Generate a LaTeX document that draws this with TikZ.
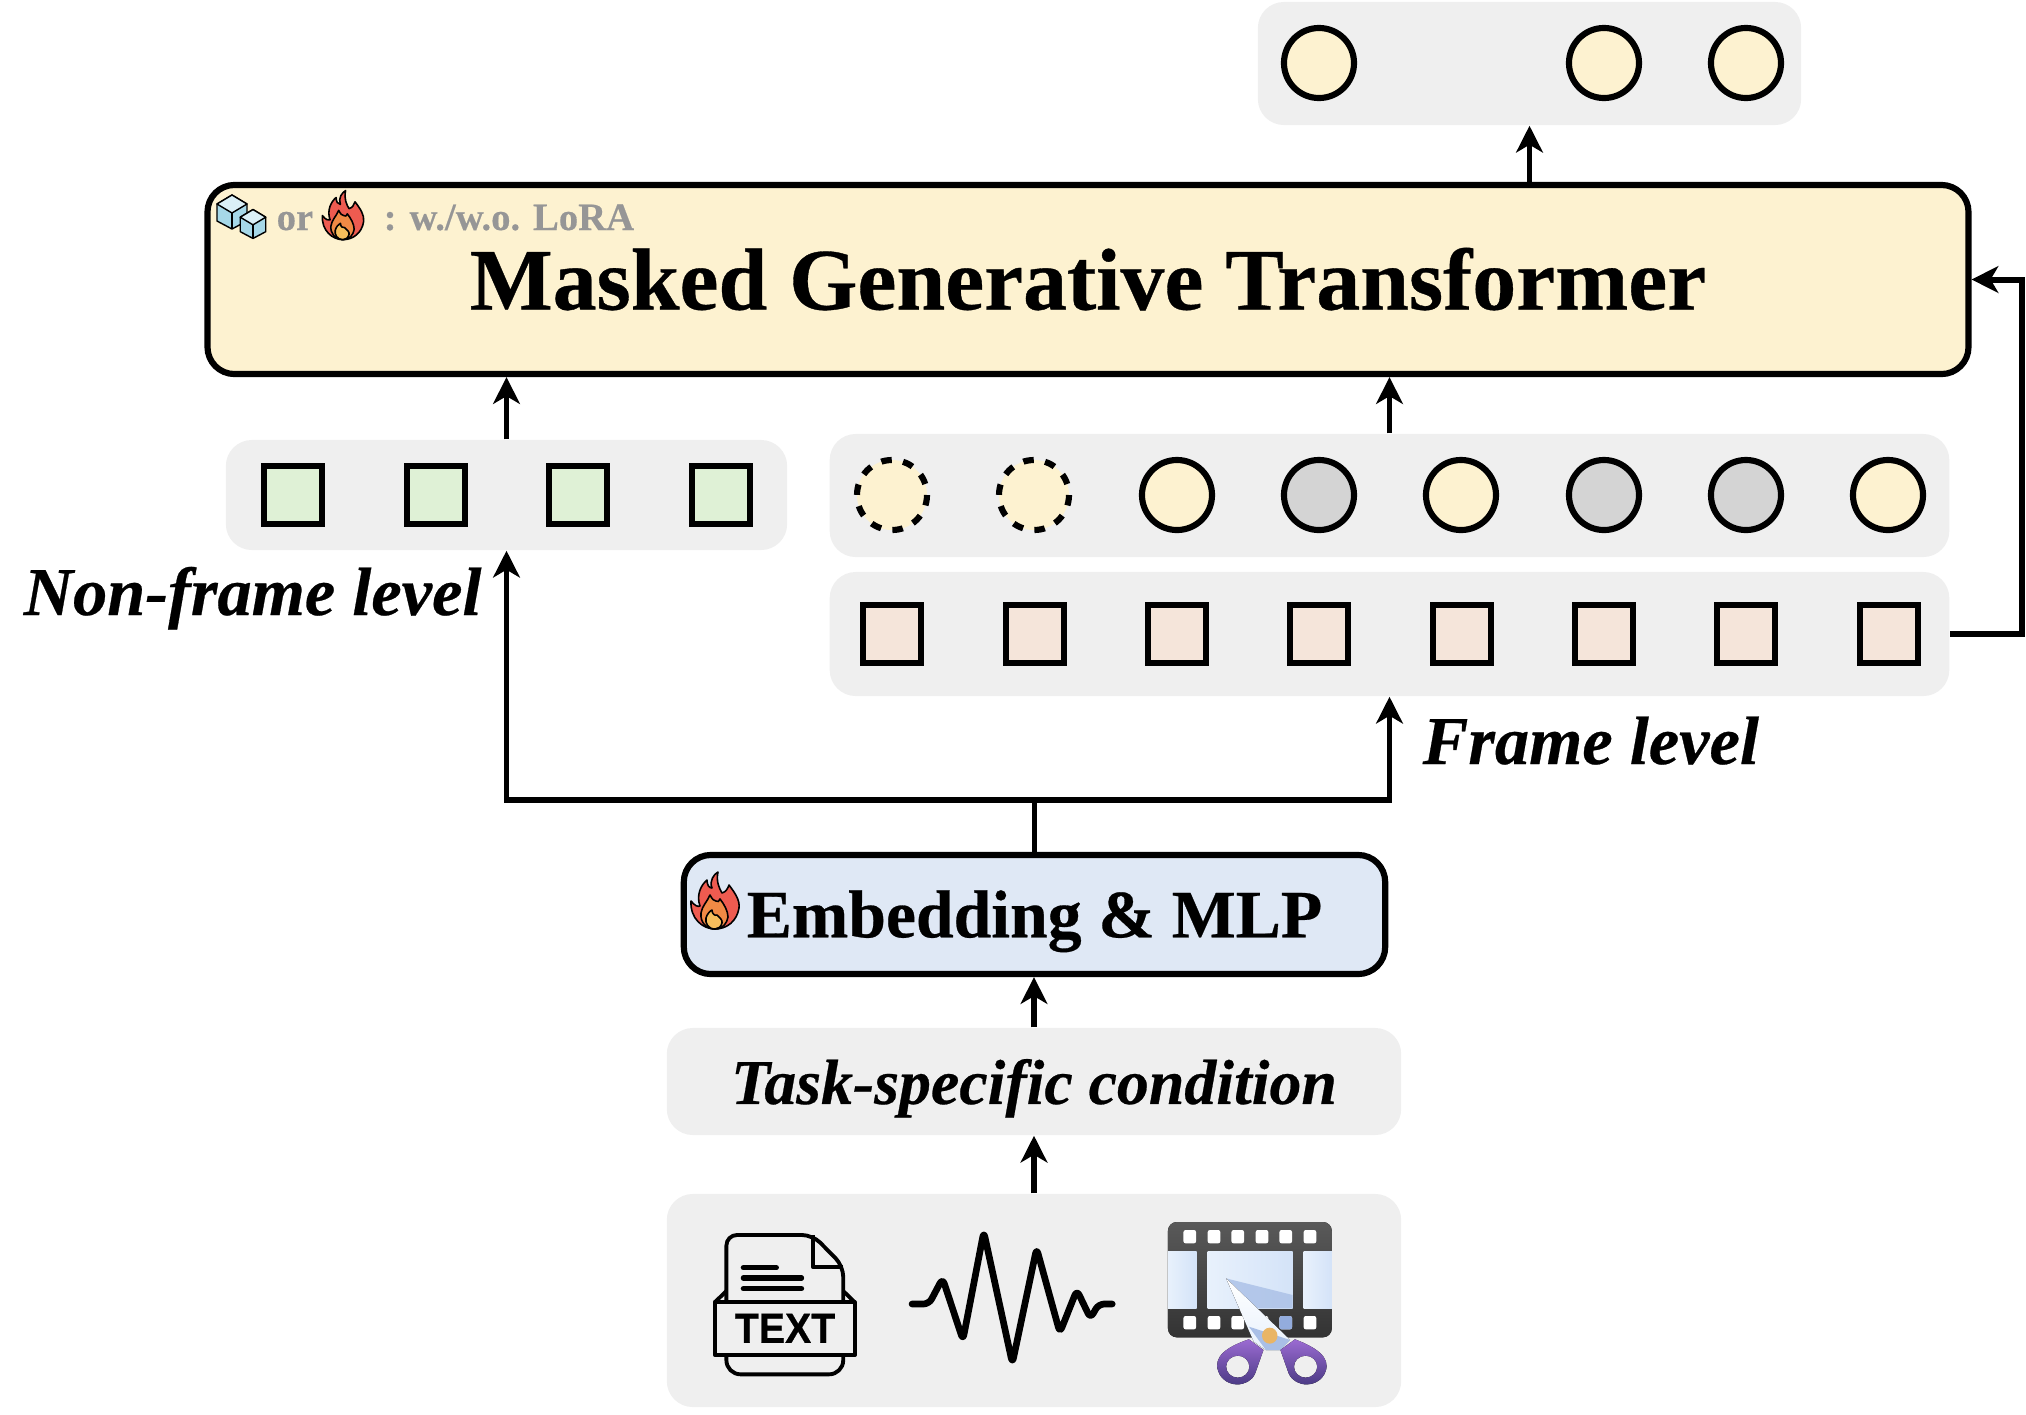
\documentclass[tikz,border=0pt]{standalone}
\usepackage{fontspec}
\setmainfont[BoldFeatures={FakeBold=0.4},BoldItalicFeatures={FakeBold=0.4}]{Liberation Serif}
\newfontfamily\iconfont[FakeStretch=0.93,BoldFeatures={FakeBold=0.6}]{Liberation Sans}
\usetikzlibrary{shapes,arrows,arrows.meta,positioning,fit,calc,backgrounds}

\definecolor{cream}{HTML}{FDF2D0}
\definecolor{panelgray}{HTML}{EFEFEF}
\definecolor{embedblue}{HTML}{DFE8F5}
\definecolor{leafgreen}{HTML}{DFF1D6}
\definecolor{peach}{HTML}{F5E5DA}
\definecolor{maskgray}{HTML}{D4D4D4}
\definecolor{loragray}{HTML}{969696}
\definecolor{flamered}{HTML}{EE5B50}
\definecolor{flameorange}{HTML}{F08A45}
\definecolor{flameyellow}{HTML}{F6BE5C}
\definecolor{icedark}{HTML}{A6D8E8}
\definecolor{icelight}{HTML}{DAF0F7}
\definecolor{filmlight}{HTML}{E8F1FC}
\definecolor{filmblue}{HTML}{D4E3F8}
\definecolor{filmshade}{HTML}{A9BFE6}
\definecolor{sprocketblue}{HTML}{93ACDD}
\definecolor{purpletop}{HTML}{9B6BD2}
\definecolor{purplebottom}{HTML}{45377F}
\definecolor{pivotgold}{HTML}{E9B565}

\tikzset{
    flame/.pic={
        \draw[fill=flamered, line width=0.45pt, line join=round] (0,24) .. controls (-12,24) and (-25,14) .. (-24,-4)
            .. controls (-20,1) and (-17,2) .. (-15,1) .. controls (-19,-10) and (-14,-20) .. (-8,-25)
            .. controls (-8,-20) and (-6,-17) .. (-3,-17) .. controls (-6,-24) and (-1,-31) .. (3,-33)
            .. controls (1,-24) and (4,-17) .. (7,-12) .. controls (11,-13) and (13,-17) .. (14,-20)
            .. controls (20,-12) and (25,-5) .. (24,3) .. controls (22,16) and (12,24) .. (0,24) -- cycle;
        \draw[fill=flameorange, line width=0.45pt, line join=round] (0,24) .. controls (-9,24) and (-15,17) .. (-14,8)
            .. controls (-13,1) and (-8,-3) .. (-5,-10) .. controls (-3,-6) and (-1,-4) .. (1,-4)
            .. controls (3,-2) and (4,-4) .. (5,-6) .. controls (9,-1) and (13,6) .. (13,12)
            .. controls (12,18) and (8,24) .. (0,24) -- cycle;
        \draw[fill=flameyellow, line width=0.45pt, line join=round] (0,24) .. controls (-7,24) and (-10,18) .. (-9,13)
            .. controls (-8,9) and (-5,6) .. (-3,5) .. controls (-3,9) and (0,11) .. (2,10)
            .. controls (4,12) and (8,15) .. (7,18) .. controls (6,22) and (3,24) .. (0,24) -- cycle;
    },
    cube/.pic={
        \draw[fill=icedark, line width=0.4pt, line join=round] (0,-17) -- (15,-8) -- (15,9) -- (0,17) -- (-15,9) -- (-15,-8) -- cycle;
        \draw[fill=icelight, line width=0.4pt, line join=round] (0,-17) -- (15,-8) -- (0,1) -- (-15,-8) -- cycle;
        \draw[line width=0.4pt] (0,1) -- (0,17);
    },
    panel/.style={fill=panelgray, rounded corners=0.26cm, inner sep=0pt},
    block/.style={draw, line width=1.75pt, rounded corners=0.27cm, inner sep=0pt, text depth=0pt},
    cell/.style={draw, line width=1.75pt, minimum size=0.58cm, inner sep=0pt},
    token/.style={draw, circle, line width=1.75pt, minimum size=0.7cm, inner sep=0pt, fill=cream},
    edge/.style={-{Stealth[length=7.6pt,width=7.6pt,inset=2.2pt]}, line width=1.7pt, draw=black},
    levellabel/.style={font=\fontsize{19.45}{24}\selectfont\bfseries\itshape, inner sep=0pt},
}

\begin{document}
\begin{tikzpicture}[x=0.01cm, y=-0.01cm]
\useasboundingbox (0,0) rectangle (2026,1414);

% Output tokens
\node[panel, minimum width=5.43cm, minimum height=1.23cm] (outpanel) at (1529.5,63.5) {};
\foreach \x/\n in {1319/a, 1604/b, 1746/c}
    \node[token] (out\n) at (\x,63) {};

% Transformer
\node[block, fill=cream, minimum width=17.60cm, minimum height=1.89cm,
      font=\fontsize{24.95}{30}\selectfont\bfseries] (trans) at (1088,279.5) {\raisebox{0.5pt}{Masked Generative Transformer}};
\pic[scale=0.86] at (343,219) {flame};
\pic at (232,212) {cube};
\pic[scale=0.85] at (253,224) {cube};
\node[font=\fontsize{11}{14}\selectfont\bfseries, text=loragray, anchor=base west, inner sep=0pt] (orlabel) at (276,230) {or};
\node[font=\fontsize{11}{14}\selectfont\bfseries, text=loragray, anchor=base west, inner sep=0pt] (loralabel) at (383,230) {: w./w.o. LoRA};

% Non-frame level
\node[panel, minimum width=5.61cm, minimum height=1.10cm] (nonframe) at (506.5,495) {};
\foreach \x/\n in {293/a, 436/b, 578/c, 721/d}
    \node[cell, fill=leafgreen] (green\n) at (\x,495) {};
\node[levellabel, anchor=base west] (nonframelabel) at (23,615) {Non-frame level};

% Frame level tokens
\node[panel, minimum width=11.19cm, minimum height=1.23cm] (tokens) at (1389.5,495.5) {};
\foreach \x/\n in {892/a, 1034/b}
    \node[token, draw=none] (mask\n) at (\x,495) {};
\foreach \x/\n in {892/a, 1034/b}
    \draw[line width=1.75pt, dash pattern=on 3pt off 3.26pt] (mask\n) circle (35);
\foreach \x/\n/\c in {1177/c/cream, 1319/d/maskgray, 1461/e/cream, 1604/f/maskgray, 1746/g/maskgray, 1888/h/cream}
    \node[token, fill=\c] (mask\n) at (\x,495) {};

\node[panel, minimum width=11.19cm, minimum height=1.24cm] (frames) at (1389.5,634) {};
\foreach \x/\n in {892/a, 1035/b, 1177/c, 1319/d, 1462/e, 1604/f, 1746/g, 1889/h}
    \node[cell, fill=peach] (frame\n) at (\x,634) {};
\node[levellabel, anchor=base west] (framelabel) at (1422,764) {Frame level};

% Embedding
\node[block, fill=embedblue, minimum width=7.01cm, minimum height=1.19cm,
      font=\fontsize{19.25}{23}\selectfont\bfseries] (embed) at (1034.5,914.5) {\raisebox{0.4pt}{Embedding \& MLP}};
\pic at (715,905) {flame};

% Condition
\node[panel, minimum width=7.34cm, minimum height=1.07cm, text depth=0pt,
      font=\fontsize{18.15}{23}\selectfont\bfseries\itshape] (task) at (1034,1081.5) {Task-specific condition};

% Inputs
\node[panel, minimum width=7.34cm, minimum height=2.13cm] (inputs) at (1034,1300.5) {};

% Text icon
\begin{scope}[shift={(660,1180)}, xscale=0.4847, yscale=0.3333, line width=1.1pt, line join=round]
    \draw[rounded corners=3pt] (137,367) -- (137,165) -- (315,165) -- (378,258) -- (378,367);
    \draw (315,165) -- (315,260) -- (378,260);
    \draw[line width=1.5pt, line cap=round] (172,263) -- (240,263);
    \draw[line width=1.5pt, line cap=round] (172,294) -- (292,294);
    \draw[line width=1.5pt, line cap=round] (172,326) -- (292,326);
    \draw (137,333) -- (113,367) (378,333) -- (402,367);
    \draw (113,367) rectangle (402,525);
    \draw[rounded corners=4pt] (137,525) -- (137,583) -- (378,583) -- (378,525);
    \node[font=\fontsize{12}{14}\selectfont\iconfont\bfseries, inner sep=0pt] (texticon) at (258,445) {TEXT};
\end{scope}

% Waveform
\begin{scope}[shift={(660,1180)}, xscale=0.4847, yscale=0.3333]
    \draw[line width=1.9pt, line join=round, line cap=round, rounded corners=1.6pt]
        (520,372) -- (555,372) -- (583,295) -- (625,480) -- (668,155) -- (727,550) -- (777,205)
        -- (825,458) -- (860,330) -- (888,415) -- (905,372) -- (933,372);
\end{scope}

% Film and scissors
\begin{scope}[shift={(660,1180)}, xscale=0.4847, yscale=0.3333]
    \fill[top color=black!65, bottom color=black!80, rounded corners=2.5pt] (1048,126) rectangle (1386,472);
    \fill[left color=filmlight, right color=filmblue] (1048,215) rectangle (1107,385);
    \fill[left color=filmlight, right color=filmblue] (1130,215) rectangle (1305,385);
    \fill[left color=filmlight, right color=filmblue] (1328,215) rectangle (1386,385);
    \foreach \x in {1093,1143,1192,1242,1291,1341} {
        \fill[white, rounded corners=0.6pt] (\x-13,150) rectangle (\x+13,190);
        \fill[white, rounded corners=0.6pt] (\x-13,408) rectangle (\x+13,448);
    }
    \fill[sprocketblue, rounded corners=0.6pt] (1278,408) rectangle (1304,448);
    \fill[filmshade, opacity=0.8] (1168,295) -- (1305,345) -- (1305,385) -- (1195,385) -- cycle;
    \fill[top color=white, bottom color=filmlight] (1168,295) -- (1225,485) -- (1250,510) -- (1280,510) -- (1300,480) -- cycle;
    \fill[filmshade] (1215,440) -- (1300,480) -- (1280,510) -- (1250,510) -- cycle;
    \fill[even odd rule, top color=purpletop, bottom color=purplebottom]
        (1215,478) .. controls (1170,500) and (1140,530) .. (1152,575) .. controls (1165,625) and (1215,625) .. (1228,580)
        -- (1245,510) -- cycle
        (1192,560) ellipse (24 and 33);
    \fill[even odd rule, top color=purpletop, bottom color=purplebottom]
        (1310,478) .. controls (1350,500) and (1385,530) .. (1373,575) .. controls (1360,625) and (1310,625) .. (1297,580)
        -- (1280,510) -- cycle
        (1332,560) ellipse (24 and 33);
    \fill[pivotgold] (1258,467) ellipse (16 and 24);
\end{scope}

% Connections
\coordinate (split) at (embed.north |- 0,800);
\draw[edge] (trans.north -| outpanel) -- (outpanel.south);
\draw[edge] (nonframe.north) -- (nonframe.north |- trans.south);
\draw[edge] (tokens.north) -- (tokens.north |- trans.south);
\draw[edge] (frames.east) -- ++(72,0) |- (trans.east);
\draw[edge] (embed.north) -- (split) -| (nonframe.south);
\draw[edge] (split) -| (frames.south);
\draw[edge] (task.north) -- (embed.south -| task);
\draw[edge] (inputs.north) -- (task.south);

\end{tikzpicture}
\end{document}
